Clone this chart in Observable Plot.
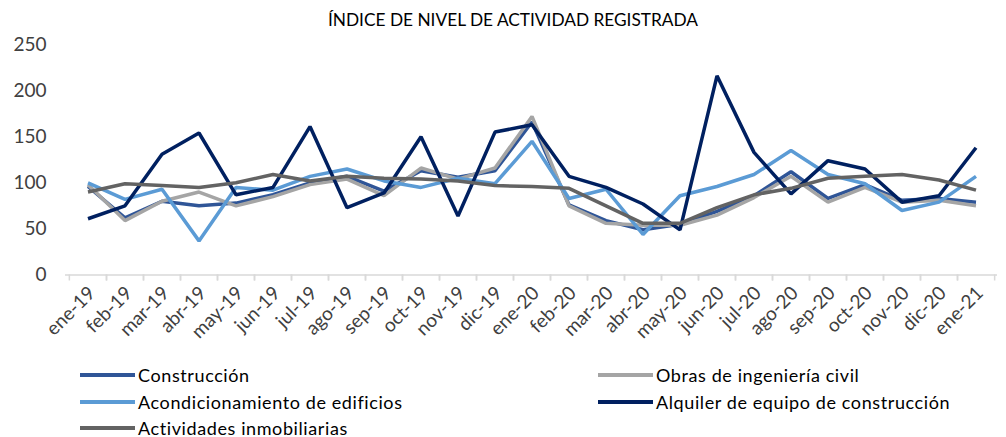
<!DOCTYPE html>
<html>
<head>
<meta charset="utf-8">
<script src="https://cdn.jsdelivr.net/npm/d3@7"></script>
<script src="https://cdn.jsdelivr.net/npm/@observablehq/plot@0.6"></script>
<style>
  body { margin: 0; background: #fff; font-family: Lato, "Open Sans", sans-serif; color: #262626; }
  #title { height: 30px; line-height: 39px; text-align: center; font-size: 17.3px; color: #000; padding-left: 20px; white-space: nowrap; }
  #chart svg { display: block; overflow: visible; }
  #legend { position: relative; height: 83px; font-size: 18px; letter-spacing: 0.6px; color: #000; }
  .item { position: absolute; display: flex; align-items: center; height: 26px; white-space: nowrap; }
  .sw { width: 55px; height: 3.5px; margin-right: 3px; }
</style>
</head>
<body>
<div id="title">ÍNDICE DE NIVEL DE ACTIVIDAD REGISTRADA</div>
<div id="chart"></div>
<div id="legend"></div>
<script>
const months = ["ene-19","feb-19","mar-19","abr-19","may-19","jun-19","jul-19","ago-19","sep-19","oct-19","nov-19","dic-19",
                "ene-20","feb-20","mar-20","abr-20","may-20","jun-20","jul-20","ago-20","sep-20","oct-20","nov-20","dic-20","ene-21"];
const construccion   = [96, 62, 80, 75, 78, 87, 100, 107, 91, 113, 106, 113, 166, 76, 59, 49, 55, 69, 86, 112, 83, 98, 81, 83, 79];
const obrasCivil     = [98, 59, 80, 90, 75, 85, 98, 104, 86, 116, 104, 116, 172, 75, 56, 54, 54, 65, 84, 107, 79, 95, 79, 81, 75];
const acondicionam   = [100, 82, 93, 37, 95, 92, 107, 115, 102, 95, 105, 99, 145, 83, 93, 44, 86, 96, 109, 135, 109, 99, 70, 79, 107];
const alquiler       = [61, 75, 131, 154, 87, 95, 161, 73, 89, 150, 64, 155, 163, 107, 95, 77, 49, 216, 133, 88, 124, 115, 79, 86, 138];
const inmobiliarias  = [90, 99, 97, 95, 100, 109, 102, 107, 105, 104, 102, 97, 96, 94, 75, 56, 56, 73, 87, 94, 105, 107, 109, 103, 92];

const seriesNames  = ["Construcción", "Obras de ingeniería civil", "Acondicionamiento de edificios", "Alquiler de equipo de construcción", "Actividades inmobiliarias"];
const seriesValues = [construccion, obrasCivil, acondicionam, alquiler, inmobiliarias];
const seriesColors = ["#2F5597", "#A5A5A5", "#5B9BD5", "#002060", "#636363"];
const yTicks = [0, 50, 100, 150, 200, 250];

const data = seriesNames.flatMap((s, i) => months.map((m, j) => ({series: s, month: m, value: seriesValues[i][j]})));

const W = 1006, ML = 65, MR = 9;
const bw = (W - ML - MR) / months.length;

const chart = Plot.plot({
  width: W,
  height: 324,
  marginTop: 14,
  marginBottom: 79.5,
  marginLeft: ML,
  marginRight: MR,
  style: {fontFamily: "Lato, 'Open Sans', sans-serif", color: "#404040", background: "#fff", overflow: "visible"},
  x: {type: "band", domain: months, padding: 0, label: null},
  y: {domain: [0, 250], ticks: yTicks, label: null},
  color: {domain: seriesNames, range: seriesColors},
  marks: [
    Plot.axisY({ticks: yTicks, tickSize: 0, tickPadding: 19, fontSize: 19, label: null, fill: "#404040"}),
    Plot.ruleY([0], {stroke: "#D9D9D9", strokeWidth: 1.5}),
    Plot.axisX({tickSize: 6, tickFormat: () => "", dx: -bw / 2, stroke: "#D9D9D9", strokeWidth: 1.5, label: null}),
    Plot.axisX({tickSize: 6, tickFormat: () => "", dx: bw / 2, stroke: "#D9D9D9", strokeWidth: 1.5, label: null}),
    Plot.axisX({tickSize: 0, tickPadding: 15, tickRotate: -45, fontSize: 19, dx: 4, label: null, fill: "#404040"}),
    Plot.line(data, {x: "month", y: "value", z: "series", stroke: "series", strokeWidth: 3.5, strokeLinejoin: "miter", strokeLinecap: "butt"})
  ]
});
document.getElementById("chart").appendChild(chart);

const legend = document.getElementById("legend");
const pos = [[80, 8], [598, 8], [80, 35], [598, 35], [80, 61]];
seriesNames.forEach((s, i) => {
  const it = document.createElement("div");
  it.className = "item";
  it.style.left = pos[i][0] + "px";
  it.style.top = pos[i][1] + "px";
  const sw = document.createElement("span");
  sw.className = "sw";
  sw.style.background = seriesColors[i];
  const t = document.createElement("span");
  t.textContent = s;
  it.appendChild(sw); it.appendChild(t);
  legend.appendChild(it);
});
</script>
</body>
</html>
